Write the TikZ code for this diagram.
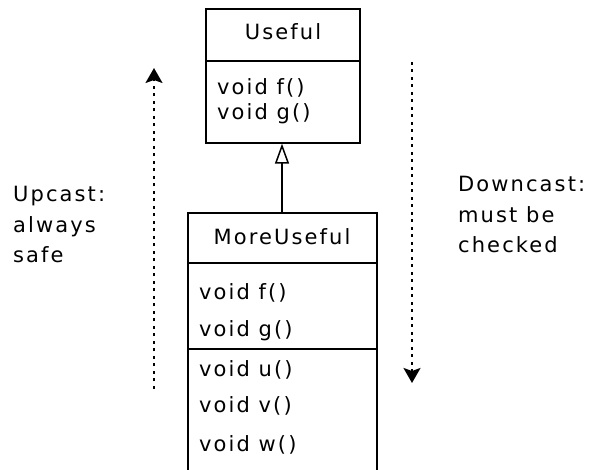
\documentclass[tikz,border=0pt]{standalone}
\usepackage{fontspec}
\setmainfont{DejaVu Sans}[LetterSpace=10]
\usetikzlibrary{arrows.meta}
\tikzset{
  classbox/.style={draw,line width=1.3pt,inner sep=0pt},
  member/.style={anchor=base west,inner sep=0pt},
  classname/.style={anchor=base,inner sep=0pt},
  note/.style={anchor=base west,inner sep=0pt,align=left},
  cast/.style={line width=2pt,dash pattern=on 3pt off 4.5pt,-{Stealth[length=15pt,width=17pt,inset=3pt]}},
  inherit/.style={line width=1.5pt,-{Triangle[open,length=20pt,width=14pt]}}
}
\begin{document}
\begin{tikzpicture}[x=1pt,y=-1pt,font=\fontsize{21}{30.5}\selectfont]
            \useasboundingbox (0,0) rectangle (595,470);
            \node[classbox,minimum width=154pt,minimum height=134pt] (useful) at (283,76) {};
            \draw[line width=1.3pt] (useful.west |- 0,61) -- (useful.east |- 0,61);
            \node[classname] (usefulname) at (283,40) {Useful};
            \node[member] (usefulf) at (217,95) {void f()};
            \node[member] (usefulg) at (217,120) {void g()};
            \node[classbox,minimum width=189pt,minimum height=290pt] (more) at (282.5,358) {};
            \draw[line width=1.3pt] (more.west |- 0,263) -- (more.east |- 0,263);
            \draw[line width=1.3pt] (more.west |- 0,349) -- (more.east |- 0,349);
            \node[classname] (morename) at (282,245) {MoreUseful};
            \node[member] (moref) at (199,300) {void f()};
            \node[member] (moreg) at (199,337) {void g()};
            \node[member] (moreu) at (199,377) {void u()};
            \node[member] (morev) at (199,413) {void v()};
            \node[member] (morew) at (199,452) {void w()};
            \draw[inherit] (more.north -| 282,0) -- (useful.south -| 282,0);
            \coordinate (upfrom) at (154,389);
            \coordinate (upto) at (154,68);
            \draw[cast] (upfrom) -- (upto);
            \coordinate (downfrom) at (412,62);
            \coordinate (downto) at (412,383);
            \draw[cast] (downfrom) -- (downto);
            \node[note] (upnote) at (13,263) {Upcast:\\always\\safe};
            \node[note] (downnote) at (458,253) {Downcast:\\must be\\checked};
        \end{tikzpicture}
\end{document}
